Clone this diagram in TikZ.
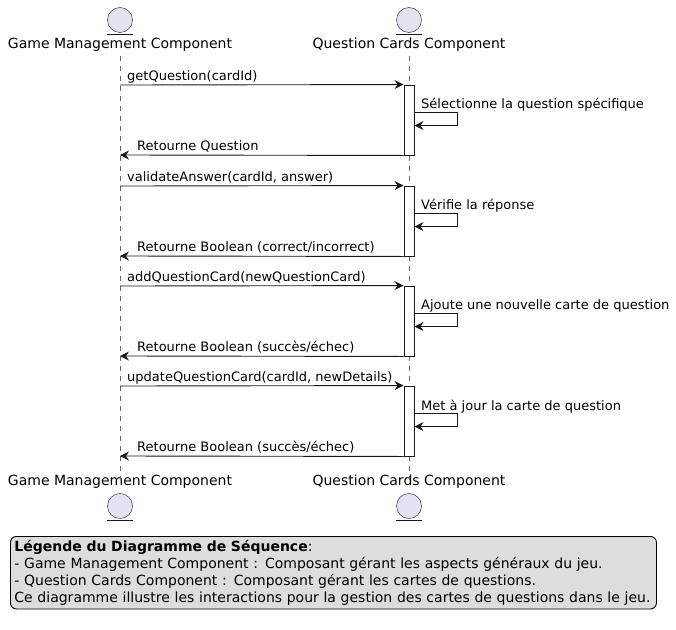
\documentclass[tikz,border=0pt]{standalone}
\usepackage{fontspec}
\setmainfont{DejaVu Sans}
\usetikzlibrary{arrows.meta,positioning}
\definecolor{entfill}{HTML}{E2E2F0}
\definecolor{entline}{HTML}{181818}
\definecolor{legfill}{HTML}{DDDDDD}

\begin{document}
\begin{tikzpicture}[x=1pt,y=-1pt,
  % Global text styling
  every node/.style={font=\fontsize{13}{16}\selectfont, inner sep=0pt},
  % Participants
  entity/.style={circle, draw=entline, fill=entfill, minimum size=25pt},
  partname/.style={anchor=center, font=\fontsize{14}{16}\selectfont},
  lifeline/.style={draw=black!60, dash pattern=on 5pt off 5pt},
  % Activations and messages
  actbox/.style={draw=entline, line width=0.9pt, fill=white, minimum width=10pt, minimum height=70pt},
  msg/.style={draw=entline, line width=0.9pt, -{Stealth[length=9pt,width=9pt,inset=3pt]}},
  msgtext/.style={anchor=base west},
  legendbox/.style={draw=black, line width=0.9pt, fill=legfill, rounded corners=6pt, inner sep=4pt,
    align=left, anchor=north west, font=\fontsize{14}{16.8}\selectfont}
]
\useasboundingbox (0,0) rectangle (676,629);

% Participants, top and bottom
\node[entity] (gmTopIcon) at (120,20) {};
\node[entity] (qcTopIcon) at (409,20) {};
\draw[entline] (107,34) -- (133,34) (396,34) -- (422,34);
\node[partname] (gmTop) at (120,45) {Game Management Component};
\node[partname] (qcTop) at (409,45) {Question Cards Component};

\node[partname] (gmBot) at (120,482) {Game Management Component};
\node[partname] (qcBot) at (409,482) {Question Cards Component};
\node[entity] (gmBotIcon) at (120,506) {};
\node[entity] (qcBotIcon) at (409,506) {};
\draw[entline] (107,520) -- (133,520) (396,520) -- (422,520);

% Lifelines
\draw[lifeline] (gmTop.south) ++(0,4) -- ([yshift=-4pt]gmBot.north);
\draw[lifeline] (qcTop.south) ++(0,4) -- ([yshift=-4pt]qcBot.north);

% Activation bars
\node[actbox] (act1) at (409,120) {};
\node[actbox] (act2) at (409,221) {};
\node[actbox] (act3) at (409,321) {};
\node[actbox] (act4) at (409,421) {};

% Points on the caller lifeline
\coordinate (gmA) at (120,85);
\coordinate (gmB) at (120,155);
\coordinate (gmC) at (120,186);
\coordinate (gmD) at (120,256);
\coordinate (gmE) at (120,286);
\coordinate (gmF) at (120,356);
\coordinate (gmG) at (120,386);
\coordinate (gmH) at (120,456);

% getQuestion
\draw[msg] (gmA) -- (act1.north west);
\node[msgtext] (m1) at (127,80) {getQuestion(cardId)};
\draw[msg] ([yshift=-28pt]act1.north east) -- ++(43,0) -- ++(0,13) -- ++(-43,0);
\node[msgtext] (s1) at (421,108) {Sélectionne la question spécifique};
\draw[msg] (act1.south west) -- (gmB);
\node[msgtext] (r1) at (137,150) {Retourne Question};

% validateAnswer
\draw[msg] (gmC) -- (act2.north west);
\node[msgtext] (m2) at (127,181) {validateAnswer(cardId, answer)};
\draw[msg] ([yshift=-28pt]act2.north east) -- ++(43,0) -- ++(0,13) -- ++(-43,0);
\node[msgtext] (s2) at (421,209) {Vérifie la réponse};
\draw[msg] (act2.south west) -- (gmD);
\node[msgtext] (r2) at (137,251) {Retourne Boolean (correct/incorrect)};

% addQuestionCard
\draw[msg] (gmE) -- (act3.north west);
\node[msgtext] (m3) at (127,281) {addQuestionCard(newQuestionCard)};
\draw[msg] ([yshift=-28pt]act3.north east) -- ++(43,0) -- ++(0,13) -- ++(-43,0);
\node[msgtext] (s3) at (421,309) {Ajoute une nouvelle carte de question};
\draw[msg] (act3.south west) -- (gmF);
\node[msgtext] (r3) at (137,351) {Retourne Boolean (succès/échec)};

% updateQuestionCard
\draw[msg] (gmG) -- (act4.north west);
\node[msgtext] (m4) at (127,381) {updateQuestionCard(cardId, newDetails)};
\draw[msg] ([yshift=-28pt]act4.north east) -- ++(43,0) -- ++(0,13) -- ++(-43,0);
\node[msgtext] (s4) at (421,410) {Met à jour la carte de question};
\draw[msg] (act4.south west) -- (gmH);
\node[msgtext] (r4) at (137,451) {Retourne Boolean (succès/échec)};

% Legend
\node[legendbox, text width=638pt] (legend) at (10,536)
  {\textbf{Légende du Diagramme de Séquence}:\\
   - Game Management Component : Composant gérant les aspects généraux du jeu.\\
   - Question Cards Component : Composant gérant les cartes de questions.\\
   Ce diagramme illustre les interactions pour la gestion des cartes de questions dans le jeu.};
\end{tikzpicture}
\end{document}
